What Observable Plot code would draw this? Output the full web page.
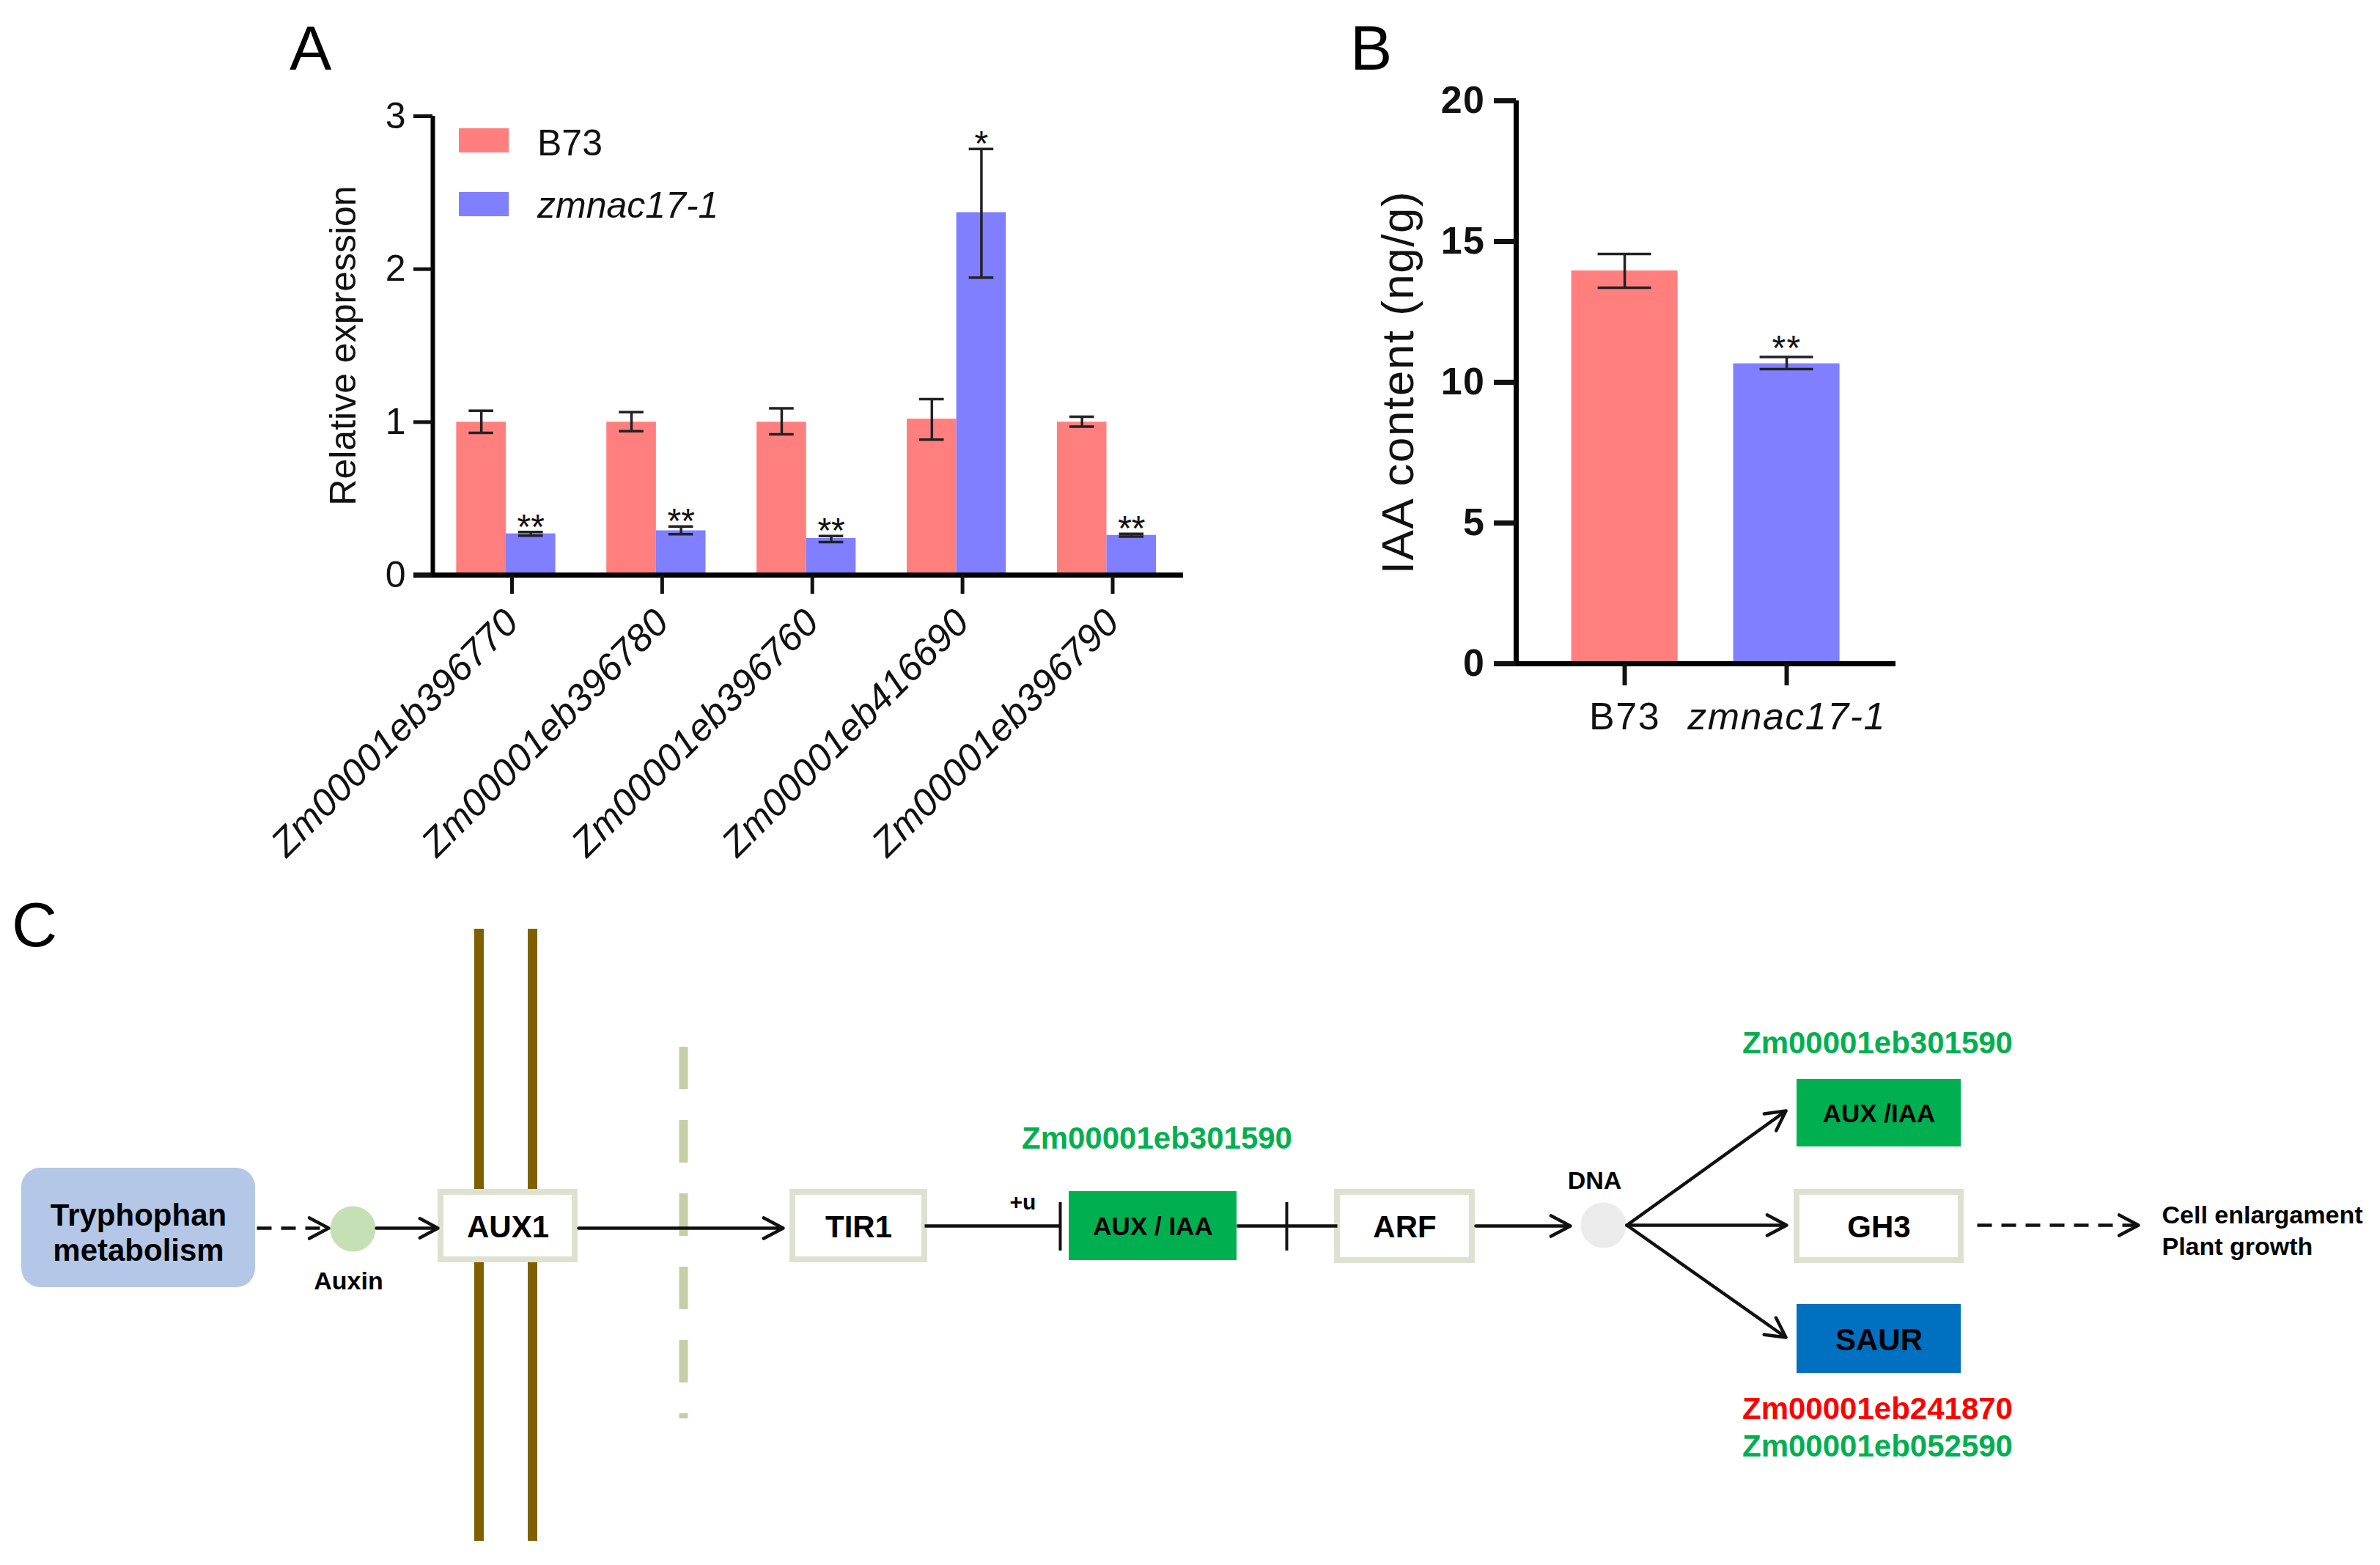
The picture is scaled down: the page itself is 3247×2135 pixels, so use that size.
<!DOCTYPE html>
<html>
<head>
<meta charset="utf-8">
<script src="https://cdn.jsdelivr.net/npm/d3@7"></script>
<script src="https://cdn.jsdelivr.net/npm/@observablehq/plot@0.6"></script>
<style>
  html, body { margin: 0; padding: 0; background: #fff; }
  #page { position: relative; width: 3247px; height: 2135px; background: #fff; overflow: hidden;
          font-family: Arial, "Liberation Sans", sans-serif; }
  .abs { position: absolute; }
  .letter { font-size: 86px; line-height: 86px; color: #000; }
  .legtext { font-size: 50px; line-height: 50px; color: #111; white-space: nowrap; }
  .panelB text { letter-spacing: 1.5px; }
</style>
</head>
<body>
<div id="page"></div>
<script>
// ---------------- DATA ----------------
const genes = ["Zm00001eb396770", "Zm00001eb396780", "Zm00001eb396760", "Zm00001eb416690", "Zm00001eb396790"];
const genotypes = ["B73", "zmnac17-1"];
const genotypeColors = ["#ff7f7f", "#7f7fff"];

// Panel A: relative expression (mean, error low, error high)
const b73Expr   = [1.00, 1.00, 1.00, 1.02, 1.00];
const b73Lo     = [0.93, 0.94, 0.92, 0.885, 0.97];
const b73Hi     = [1.075, 1.065, 1.09, 1.15, 1.035];
const mutExpr   = [0.27, 0.29, 0.24, 2.37, 0.26];
const mutLo     = [0.258, 0.267, 0.216, 1.945, 0.252];
const mutHi     = [0.282, 0.317, 0.255, 2.785, 0.27];
const mutSig    = ["**", "**", "**", "*", "**"];
const exprTicks = [0, 1, 2, 3];

// Panel B: IAA content (ng/g)
const iaaMean = [13.96, 10.66];
const iaaLo   = [13.36, 10.47];
const iaaHi   = [14.56, 10.90];
const iaaSig  = ["", "**"];
const iaaTicks = [0, 5, 10, 15, 20];

// Panel C: auxin signalling pathway
const pathwayNodes = ["Tryphophan\nmetabolism", "AUX1", "TIR1", "AUX / IAA", "ARF", "AUX /IAA", "GH3", "SAUR"];
const nodeClass    = ["pathway", "none", "none", "down", "none", "down", "none", "mixed"];
const pathwayGenes = ["Zm00001eb301590", "Zm00001eb301590", "Zm00001eb241870", "Zm00001eb052590"];
const geneRegulation = ["down", "down", "up", "down"];
const pathwayMolecules = ["Auxin", "DNA"];
const pathwayOutcome = "Cell enlargament\nPlant growth";

// ---------------- STYLE / LAYOUT ----------------
const FONT = 'Arial, "Liberation Sans", sans-serif';
const classFill = {pathway: "#b4c7e7", none: "#ffffff", down: "#00b050", mixed: "#0070c0"};
const classStroke = {pathway: "none", none: "#dde2d0", down: "none", mixed: "none"};
const regColor = {down: "#00b050", up: "#ff0000"};
const page = document.getElementById("page");

function place(el, left, top) {
  const d = document.createElement("div");
  d.className = "abs";
  d.style.left = left + "px";
  d.style.top = top + "px";
  d.appendChild(el);
  page.appendChild(d);
  return d;
}
function label(text, cls, left, top, extra) {
  const s = document.createElement("div");
  s.className = cls;
  s.textContent = text;
  if (extra) Object.assign(s.style, extra);
  return place(s, left, top);
}

// ---------------- PANEL A ----------------
const BW = 0.33;
const dataA = genes.flatMap((g, i) => [
  {i, k: 0, genotype: genotypes[0], value: b73Expr[i], lo: b73Lo[i], hi: b73Hi[i], sig: ""},
  {i, k: 1, genotype: genotypes[1], value: mutExpr[i], lo: mutLo[i], hi: mutHi[i], sig: mutSig[i]}
]);
const cA = d => d.i + (d.k - 0.5) * BW;
const xA0 = -0.488, xA1 = 4.51, xAext = -0.615;

const plotA = Plot.plot({
  width: 1700, height: 1240,
  marginLeft: 590, marginRight: 86, marginTop: 158, marginBottom: 456,
  x: {domain: [xA0, xA1]},
  y: {domain: [0, 3]},
  color: {domain: genotypes, range: genotypeColors},
  style: {fontFamily: FONT, background: "transparent", maxWidth: "none", overflow: "visible", color: "#111"},
  marks: [
    Plot.rect(dataA, {x1: d => d.i + (d.k - 1) * BW, x2: d => d.i + d.k * BW, y1: 0, y2: "value", fill: "genotype"}),
    Plot.ruleX(dataA, {x: cA, y1: "lo", y2: "hi", stroke: "#222", strokeWidth: 3.5}),
    Plot.ruleY(dataA, {y: "lo", x1: d => cA(d) - 0.082, x2: d => cA(d) + 0.082, stroke: "#222", strokeWidth: 3.5}),
    Plot.ruleY(dataA, {y: "hi", x1: d => cA(d) - 0.082, x2: d => cA(d) + 0.082, stroke: "#222", strokeWidth: 3.5}),
    Plot.text(dataA.filter(d => d.sig), {x: cA, y: "hi", text: "sig", fontSize: 48, lineAnchor: "bottom", dy: 9, fill: "#111"}),
    Plot.ruleY([0], {x1: () => xAext, x2: () => xA1, stroke: "#000", strokeWidth: 7}),
    Plot.ruleX([xA0], {y1: 0, y2: 3, stroke: "#000", strokeWidth: 6}),
    Plot.axisY({ticks: exprTicks, tickSize: 26, tickPadding: 11, fontSize: 50, strokeWidth: 5, label: null, tickFormat: d => d}),
    Plot.axisX({ticks: [0, 1, 2, 3, 4], tickFormat: i => genes[i], tickSize: 26, tickPadding: 30, tickRotate: -45,
                textAnchor: "end", lineAnchor: "middle", dx: 8,
                fontSize: 52, fontStyle: "italic", strokeWidth: 5, label: null}),
    Plot.text(["Relative expression"], {frameAnchor: "left", dx: -122, rotate: -90, textAnchor: "middle",
      lineAnchor: "middle", fontSize: 50, fill: "#111"})
  ]
});
place(plotA, 0, 0);

// Panel A legend
genotypes.forEach((g, k) => {
  const sw = document.createElement("div");
  Object.assign(sw.style, {width: "68px", height: "33px", background: genotypeColors[k]});
  place(sw, 626, [175, 262][k]);
  label(g, "legtext", 733, [170, 255][k], k === 1 ? {fontStyle: "italic"} : null);
});

// ---------------- PANEL B ----------------
const dataB = genotypes.map((g, i) => ({i, genotype: g, value: iaaMean[i], lo: iaaLo[i], hi: iaaHi[i], sig: iaaSig[i]}));
const xB0 = -0.670, xB1 = 1.674, xBext = -0.805, BWB = 0.328;

const plotB = Plot.plot({
  className: "panelB",
  width: 900, height: 1100,
  marginLeft: 318, marginRight: 64, marginTop: 137, marginBottom: 195,
  x: {domain: [xB0, xB1]},
  y: {domain: [0, 20]},
  color: {domain: genotypes, range: genotypeColors},
  style: {fontFamily: FONT, background: "transparent", maxWidth: "none", overflow: "visible", color: "#111"},
  marks: [
    Plot.rect(dataB, {x1: d => d.i - BWB, x2: d => d.i + BWB, y1: 0, y2: "value", fill: "genotype"}),
    Plot.ruleX(dataB, {x: "i", y1: "lo", y2: "hi", stroke: "#222", strokeWidth: 3.5}),
    Plot.ruleY(dataB, {y: "lo", x1: d => d.i - 0.165, x2: d => d.i + 0.165, stroke: "#222", strokeWidth: 3.5}),
    Plot.ruleY(dataB, {y: "hi", x1: d => d.i - 0.165, x2: d => d.i + 0.165, stroke: "#222", strokeWidth: 3.5}),
    Plot.text(dataB.filter(d => d.sig), {x: "i", y: "hi", text: "sig", fontSize: 48, lineAnchor: "bottom", dy: 4, fill: "#111"}),
    Plot.ruleY([0], {x1: () => xBext, x2: () => xB1, stroke: "#000", strokeWidth: 7}),
    Plot.ruleX([xB0], {y1: 0, y2: 20, stroke: "#000", strokeWidth: 7}),
    Plot.axisY({ticks: iaaTicks, tickSize: 30, tickPadding: 12, fontSize: 52, fontWeight: "bold", strokeWidth: 7, label: null, tickFormat: d => d}),
    Plot.axisX({ticks: [0, 1], tickFormat: () => "", tickSize: 30, strokeWidth: 6, label: null}),
    Plot.text(dataB.filter(d => d.i === 0), {x: "i", text: "genotype", frameAnchor: "bottom", lineAnchor: "top", dy: 53, fontSize: 52, fill: "#111"}),
    Plot.text(dataB.filter(d => d.i === 1), {x: "i", text: "genotype", frameAnchor: "bottom", lineAnchor: "top", dy: 53, fontSize: 52, fontStyle: "italic", fill: "#111"}),
    Plot.text(["IAA content (ng/g)"], {frameAnchor: "left", dx: -160, rotate: -90, textAnchor: "middle",
      lineAnchor: "middle", fontSize: 62, fill: "#111"})
  ]
});
place(plotB, 1750, 0);

// ---------------- PANEL C ----------------
// layout of the pathway diagram (pixel units of the figure)
const boxLayout = [
  [29, 348, 1593, 1756], [601, 784, 1626, 1718], [1081, 1261, 1626, 1718], [1458, 1687, 1625, 1719],
  [1824, 2008, 1626, 1719], [2451, 2675, 1472, 1564], [2451, 2675, 1626, 1719], [2451, 2675, 1779, 1873]
];
const boxLabelSize = [42, 42, 42, 35, 42, 35, 42, 42];
const boxes = pathwayNodes.map((name, j) => ({
  name, cls: nodeClass[j],
  x1: boxLayout[j][0], x2: boxLayout[j][1], y1: boxLayout[j][2], y2: boxLayout[j][3],
  size: boxLabelSize[j]
}));
const geneLayout = [[1578, 1553], [2561, 1423], [2561, 1922], [2561, 1973]];
const geneLabels = pathwayGenes.map((g, j) => ({g, reg: geneRegulation[j], x: geneLayout[j][0], y: geneLayout[j][1]}));
const moleculeLayout = [[481, 1676, 475, 1748, "#c5e0b4"], [2187, 1671, 2175, 1611, "#ebebeb"]];
const molecules = pathwayMolecules.map((m, j) => ({m, x: moleculeLayout[j][0], y: moleculeLayout[j][1],
  lx: moleculeLayout[j][2], ly: moleculeLayout[j][3], fill: moleculeLayout[j][4]}));
const solidArrows = [
  {x1: 513, y1: 1675, x2: 597, y2: 1675},
  {x1: 789, y1: 1675, x2: 1068, y2: 1675},
  {x1: 2013, y1: 1672, x2: 2142, y2: 1672},
  {x1: 2219, y1: 1671, x2: 2436, y2: 1515},
  {x1: 2219, y1: 1671, x2: 2437, y2: 1671},
  {x1: 2219, y1: 1671, x2: 2436, y2: 1824}
];
const dashedArrows = [
  {x1: 350, y1: 1675, x2: 448, y2: 1675},
  {x1: 2697, y1: 1671, x2: 2917, y2: 1671}
];
const inhibitLinks = [
  {x1: 1261, y1: 1672, x2: 1446, y2: 1672},
  {x1: 1687, y1: 1672, x2: 1824, y2: 1672}
];
const membranes = [653, 726];
const nucleusEnvelope = [932];

const plotC = Plot.plot({
  width: 3247, height: 895,
  margin: 0,
  x: {domain: [0, 3247], range: [0, 3247], axis: null},
  y: {domain: [1240, 2135], range: [0, 895], axis: null},
  color: {type: "identity"},
  style: {fontFamily: FONT, background: "transparent", maxWidth: "none", overflow: "visible"},
  marks: [
    Plot.ruleX(membranes, {x: d => d, y1: 1267, y2: 2102, stroke: "#7f6000", strokeWidth: 13}),
    Plot.ruleX(nucleusEnvelope, {x: d => d, y1: 1428, y2: 1935, stroke: "#c4cfa7", strokeWidth: 12, strokeDasharray: "58,42"}),
    Plot.rect(boxes, {x1: "x1", x2: "x2", y1: "y1", y2: "y2", fill: d => classFill[d.cls],
      stroke: d => classStroke[d.cls], strokeWidth: 8}),
    Plot.text(boxes, {x: d => (d.x1 + d.x2) / 2, y: d => (d.y1 + d.y2) / 2 + (d.cls === "pathway" ? 6 : 0),
      text: "name", fontSize: "size", fontWeight: "bold", fill: "#000", lineHeight: 1.14}),
    Plot.dot(molecules, {x: "x", y: "y", r: 31, fill: "fill", stroke: "none"}),
    Plot.text(molecules, {x: "lx", y: "ly", text: "m", fontSize: 34, fontWeight: "bold", fill: "#000"}),
    Plot.arrow(solidArrows, {x1: "x1", y1: "y1", x2: "x2", y2: "y2", stroke: "#111", strokeWidth: 4.5,
      headLength: 10, headAngle: 56}),
    Plot.link(dashedArrows, {x1: "x1", y1: "y1", x2: d => d.x2 - 3, y2: "y2", stroke: "#111", strokeWidth: 4.5,
      strokeDasharray: "20,13"}),
    Plot.arrow(dashedArrows, {x1: d => d.x2 - 120, y1: "y2", x2: "x2", y2: "y2", stroke: "#111", strokeWidth: 4.5,
      headLength: 10, headAngle: 56, insetStart: 117}),
    Plot.link(inhibitLinks, {x1: "x1", y1: "y1", x2: "x2", y2: "y2", stroke: "#111", strokeWidth: 4.5}),
    Plot.ruleX([1446, 1755], {x: d => d, y1: 1640, y2: 1706, stroke: "#111", strokeWidth: 4}),
    Plot.text(["+u"], {x: () => 1395, y: () => 1640, fontSize: 30, fontWeight: "bold", fill: "#000"}),
    Plot.text(geneLabels, {x: "x", y: "y", text: "g", fill: d => regColor[d.reg], fontSize: 42, fontWeight: "bold"}),
    Plot.text([pathwayOutcome], {x: () => 2949, y: () => 1676, text: d => d, textAnchor: "start", fontSize: 34,
      fontWeight: "bold", fill: "#000", lineHeight: 1.26})
  ]
});
place(plotC, 0, 1240);

// Rounded corner for the "Tryphophan metabolism" pool box
plotC.querySelectorAll("rect").forEach(r => {
  if (r.getAttribute("fill") === classFill.pathway) { r.setAttribute("rx", 26); r.setAttribute("ry", 26); }
});

// Panel letters
label("A", "letter", 395, 22);
label("B", "letter", 1842, 22);
label("C", "letter", 16, 1218);
</script>
</body>
</html>
